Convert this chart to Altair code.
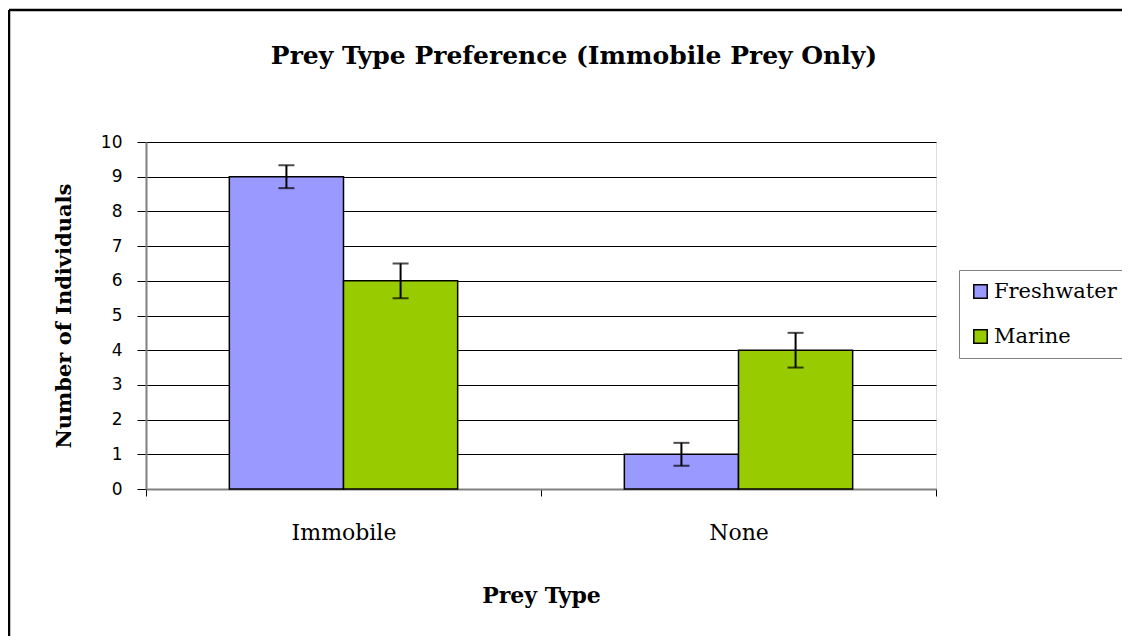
import altair as alt
import pandas as pd

prey_types = ["Immobile", "None"]
sources = ["Freshwater", "Marine"]
freshwater_counts = [9, 1]
marine_counts = [6, 4]
freshwater_err = [0.33, 0.33]
marine_err = [0.5, 0.5]
y_ticks = list(range(0, 11))

rows = []
for i, p in enumerate(prey_types):
    rows.append({"prey": p, "source": "Freshwater", "count": freshwater_counts[i], "err": freshwater_err[i]})
    rows.append({"prey": p, "source": "Marine", "count": marine_counts[i], "err": marine_err[i]})
df = pd.DataFrame(rows)
df["low"] = df["count"] - df["err"]
df["high"] = df["count"] + df["err"]

SERIF = "DejaVu Serif"
SANS = "DejaVu Sans"

x_axis = alt.Axis(
    title="Prey Type",
    labelAngle=0,
    labelFont=SERIF,
    labelFontSize=22,
    labelColor="black",
    labelPadding=26,
    tickBand="extent",
    tickSize=7,
    tickColor="black",
    domainColor="#808080",
    domainWidth=2,
    titleFont=SERIF,
    titleFontSize=22,
    titleFontWeight="bold",
    titleColor="black",
    titlePadding=42,
    grid=False,
)
y_axis = alt.Axis(
    title="Number of Individuals",
    values=y_ticks,
    labelFont=SANS,
    labelFontSize=17,
    labelColor="black",
    labelPadding=15,
    labelOverlap=False,
    tickSize=9,
    tickColor="black",
    domainColor="#808080",
    domainWidth=2,
    grid=True,
    gridColor="black",
    gridWidth=1,
    titleFont=SERIF,
    titleFontSize=21,
    titleFontWeight="bold",
    titleColor="black",
    titlePadding=26,
)

x_scale = alt.Scale(paddingInner=0, paddingOuter=0)
xo_scale = alt.Scale(paddingInner=0, paddingOuter=0.73)
y_scale = alt.Scale(domain=[0, 10], nice=False)


def x_enc():
    return alt.X("prey:N", sort=prey_types, scale=x_scale, axis=x_axis)


def xo_enc():
    return alt.XOffset("source:N", sort=sources, scale=xo_scale)


base = alt.Chart(df)

bars = base.mark_bar(stroke="black", strokeWidth=1.5).encode(
    x=x_enc(),
    xOffset=xo_enc(),
    y=alt.Y("count:Q", scale=y_scale, axis=y_axis),
    color=alt.Color(
        "source:N",
        sort=sources,
        scale=alt.Scale(domain=sources, range=["#9999FF", "#99CC00"]),
        legend=alt.Legend(
            title=None,
            orient="none",
            legendX=813,
            legendY=128,
            symbolType="square",
            symbolSize=180,
            symbolStrokeColor="black",
            symbolStrokeWidth=1.5,
            symbolOpacity=1,
            labelFont=SERIF,
            labelFontSize=21,
            labelColor="black",
            labelOffset=3,
            rowPadding=23,
            padding=11,
            strokeColor="#808080",
            fillColor="white",
        ),
    ),
)

rules = base.mark_rule(color="black", strokeWidth=2).encode(
    x=x_enc(),
    xOffset=xo_enc(),
    y=alt.Y("low:Q", scale=y_scale, axis=y_axis),
    y2="high:Q",
)
caps_low = base.mark_tick(color="black", thickness=2, size=16, orient="horizontal").encode(
    x=x_enc(),
    xOffset=xo_enc(),
    y=alt.Y("low:Q", scale=y_scale, axis=y_axis),
)
caps_high = base.mark_tick(color="black", thickness=2, size=16, orient="horizontal").encode(
    x=x_enc(),
    xOffset=xo_enc(),
    y=alt.Y("high:Q", scale=y_scale, axis=y_axis),
)

frame_top = alt.Chart(pd.DataFrame({"a": [0]})).mark_rule(color="black", strokeWidth=2.5).encode(
    x=alt.value(-137), x2=alt.value(1000), y=alt.value(-132)
)
frame_left = alt.Chart(pd.DataFrame({"a": [0]})).mark_rule(color="black", strokeWidth=2.5).encode(
    x=alt.value(-137), y=alt.value(-132), y2=alt.value(500)
)

chart = (
    alt.layer(bars, rules, caps_low, caps_high, frame_top, frame_left)
    .properties(
        width=790,
        height=347,
        autosize=alt.AutoSizeParams(type="none"),
        padding={"left": 138, "top": 134, "right": 186, "bottom": 147},
        title=alt.TitleParams(
            "Prey Type Preference (Immobile Prey Only)",
            font=SERIF,
            fontSize=25,
            fontWeight="bold",
            color="black",
            anchor="middle",
            baseline="alphabetic",
            dx=33,
            offset=-80,
        ),
    )
    .configure_view(fill="#C0C0C0", stroke="#808080", strokeWidth=2)
    .configure(background="white")
)

chart.save("out.html", embed_options={"renderer": "svg", "actions": False})
